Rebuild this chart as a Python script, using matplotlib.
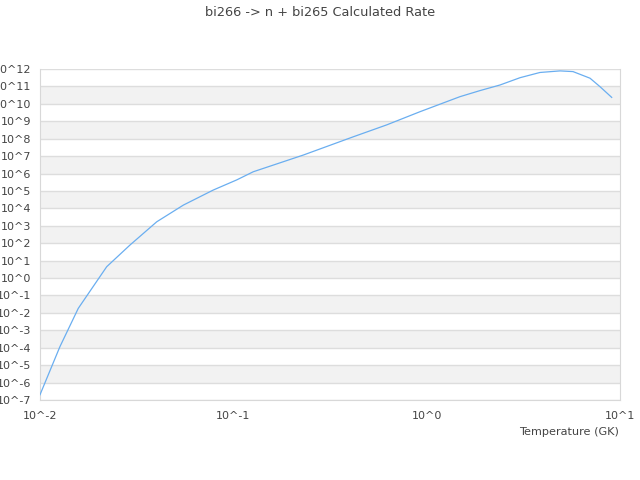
import matplotlib
matplotlib.use("Agg")
import matplotlib.pyplot as plt
import numpy as np

# values (log10 of temperature in GK, log10 of rate)
log_temp = [-2.0, -1.897, -1.802, -1.655, -1.534, -1.396, -1.258, -1.104, -0.983,
            -0.897, -0.638, -0.379, -0.207, -0.034, 0.172, 0.276, 0.379, 0.483, 0.586,
            0.690, 0.757, 0.845, 0.897, 0.957]
log_rate = [-6.7, -3.94, -1.74, 0.65, 1.90, 3.23, 4.19, 5.05, 5.63,
            6.10, 7.06, 8.11, 8.79, 9.55, 10.41, 10.76, 11.08, 11.50, 11.80,
            11.89, 11.85, 11.47, 10.98, 10.37]

temp = 10.0 ** np.array(log_temp)
rate = 10.0 ** np.array(log_rate)

y_exps = list(range(-7, 13))
x_exps = [-2, -1, 0, 1]
text_col = "#444444"

fig = plt.figure(figsize=(6.4, 4.8), dpi=100)
ax = fig.add_axes([0.0625, 0.1667, 0.90625, 0.68958])

# alternating bands
for k in y_exps[:-1]:
    if k % 2 == 0:
        ax.axhspan(10.0 ** k, 10.0 ** (k + 1), color="#f2f2f2", lw=0, zorder=0)
for k in y_exps:
    ax.axhline(10.0 ** k, color="#dddddd", lw=1, zorder=1)

ax.plot(temp, rate, color="#6aaef0", lw=0.9, zorder=3)

ax.set_xscale("log")
ax.set_yscale("log")
ax.set_xlim(1e-2, 1e1)
ax.set_ylim(1e-7, 1e12)

ax.set_yticks([10.0 ** k for k in y_exps], ["10^%d" % k for k in y_exps])
ax.set_xticks([10.0 ** k for k in x_exps], ["10^%d" % k for k in x_exps])
ax.minorticks_off()
ax.tick_params(length=0, labelsize=8, colors=text_col)
ax.tick_params(axis="y", pad=6)
ax.tick_params(axis="x", pad=8)

for s in ax.spines.values():
    s.set_color("#d8d8d8")
ax.spines["top"].set_visible(False)

fig.text(0.5, 0.975, "bi266 -> n + bi265 Calculated Rate", ha="center", va="center",
         fontsize=9.3, color=text_col)
fig.text(0.967, 0.101, "Temperature (GK)", ha="right", va="center",
         fontsize=8.1, color=text_col)

fig.savefig("out.png", dpi=100)
